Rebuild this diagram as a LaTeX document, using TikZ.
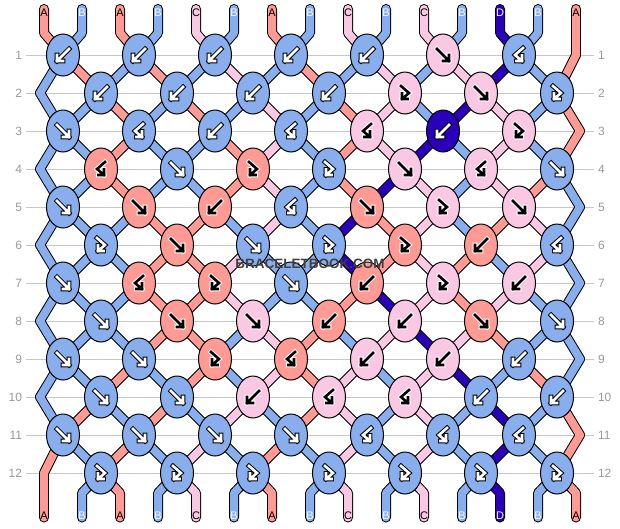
\documentclass[tikz,border=0pt]{standalone}
\usepackage{fontspec}
\setmainfont{Liberation Sans}
\usetikzlibrary{shapes.geometric}

\definecolor{strA}{HTML}{FF9A94}
\definecolor{strB}{HTML}{88AEEE}
\definecolor{strC}{HTML}{FAC8E2}
\definecolor{strD}{HTML}{2A00B8}
\colorlet{inkA}{black}  \colorlet{haloA}{white}
\colorlet{inkB}{white}  \colorlet{haloB}{black}
\colorlet{inkC}{black}  \colorlet{haloC}{white}
\colorlet{inkD}{white}  \colorlet{haloD}{black}

\pgfdeclarelayer{background}
\pgfsetlayers{background,main}

% knot arrows, around the knot centre (y points down)
\def\arrowf{(-6,-6) -- (6,6) (0,6) -- (6,6) -- (6,0)}
\def\arrowb{(6,-6) -- (-6,6) (0,6) -- (-6,6) -- (-6,0)}
\def\arrowfb{(-4,-7) -- (4,0) -- (-3,6) (2.5,6) -- (-3,6) -- (-3,0.5)}
\def\arrowbf{(4,-7) -- (-4,0) -- (3,6) (-2.5,6) -- (3,6) -- (3,0.5)}

% thread colours below each row (row 0 = top)
\def\threadrows{0/{A,B,A,B,C,B,A,B,C,B,C,B,D,B,A},
  1/{B,A,B,A,B,C,B,A,B,C,B,C,D,B,A},
  2/{B,B,A,B,A,B,C,B,A,C,B,D,C,B,A},
  3/{B,B,A,B,B,A,C,B,A,C,D,B,C,B,A},
  4/{B,B,A,B,B,A,C,B,A,D,C,B,C,A,B},
  5/{B,B,B,A,A,B,C,B,D,A,C,B,A,C,B},
  6/{B,B,B,A,A,C,B,B,D,A,C,A,B,C,B},
  7/{B,B,B,A,A,C,B,B,A,D,C,A,C,B,B},
  8/{B,B,B,A,A,B,C,A,B,C,D,C,A,B,B},
  9/{B,B,A,B,A,B,C,A,C,B,C,D,B,A,B},
  10/{B,A,B,A,B,C,B,A,C,B,C,B,D,B,A},
  11/{A,B,A,B,C,B,A,B,C,B,C,B,D,B,A},
  12/{A,B,A,B,C,B,A,B,C,B,C,B,D,B,A}}

\newcommand\threadseg[1]{%
  \ifnum\r=0 \draw[#1] (s-0-\p) -- (u-\p) -- (s-1-\p);
  \else\ifnum\r=12 \draw[#1] (s-12-\p) -- (d-\p) -- (s-13-\p);
  \else \draw[#1] (s-\r-\p) -- (s-\rn-\p);
  \fi\fi}

\tikzset{
  knot/.style={ellipse, draw=black, line width=1pt, minimum width=33pt,
    minimum height=42pt, inner sep=0pt},
  glyph/.style={draw=ink#1, line width=2.6pt, line cap=rect, line join=miter},
  glyph halo/.style={draw=halo#1, line width=4.6pt, line cap=rect, line join=miter},
  thread/.style={line cap=round, line join=round},
  rowline/.style={draw=black!22, line width=1pt},
  rownum/.style={text=black!40, font=\fontsize{12}{12}\selectfont,
    inner sep=0pt, outer sep=4pt},
  strlabel/.style={font=\fontsize{11}{11}\selectfont, inner sep=0pt},
  watermark/.style={text=black!75, font=\bfseries\fontsize{13.5}{13.5}\selectfont}
}

\begin{document}
\begin{tikzpicture}[x=1pt,y=-1pt]
\useasboundingbox (0,0) rectangle (620,528);

% row numbers
\foreach \r in {1,...,12} {
  \node[rownum, anchor=east] (ln-\r) at (26, {55+38*(\r-1)}) {\r};
  \node[rownum, anchor=west] (rn-\r) at (594, {55+38*(\r-1)}) {\r};
}

% knots
\foreach \r/\row in {1/{B/b,B/b,B/b,B/b,B/b,C/f,B/bf},
  2/{B/b,B/b,B/b,B/b,C/fb,C/f,B/fb},
  3/{B/f,B/bf,B/b,B/bf,C/bf,D/b,C/fb},
  4/{A/bf,B/f,A/fb,B/fb,C/f,C/bf,B/f},
  5/{B/f,A/f,A/b,B/bf,A/f,C/fb,C/f},
  6/{B/fb,A/f,B/f,B/fb,A/fb,A/b,B/bf},
  7/{B/f,A/bf,A/fb,B/f,A/b,C/fb,C/b},
  8/{B/f,A/f,C/f,A/b,C/b,A/f,B/f},
  9/{B/f,B/f,A/fb,A/bf,C/b,C/b,B/b},
  10/{B/f,B/f,C/b,C/bf,C/bf,B/b,B/b},
  11/{B/f,B/f,B/f,B/f,B/bf,B/bf,B/bf},
  12/{B/fb,B/fb,B/fb,B/fb,B/fb,B/fb,B/fb}} {
  \foreach \kc/\kt [count=\kj] in \row {
    \node[knot, fill=str\kc] (k-\r-\kj)
      at ({63+38*mod(\r+1,2)+76*(\kj-1)}, {55+38*(\r-1)}) {};
    \expandafter\let\expandafter\arrowpath\csname arrow\kt\endcsname
    \draw[glyph halo=\kc, shift={(k-\r-\kj.center)}] \arrowpath;
    \draw[glyph=\kc, shift={(k-\r-\kj.center)}] \arrowpath;
  }
}

% where each thread passes in each row
\foreach \r in {1,...,12} {
  \foreach \p in {1,...,15} {
    \pgfmathtruncatemacro\kj{\p/2+mod(\r,2)*mod(\p,2)}
    \ifodd\r
      \ifnum\p=15 \coordinate (s-\r-\p) at (580, {55+38*(\r-1)});
      \else \coordinate (s-\r-\p) at (k-\r-\kj); \fi
    \else
      \ifnum\p=1 \coordinate (s-\r-\p) at (40, {55+38*(\r-1)});
      \else \coordinate (s-\r-\p) at (k-\r-\kj); \fi
    \fi
  }
}
\coordinate (s-1-15) at (576,55);
\coordinate (s-12-1) at (44,473);

% thread ends and their letters
\foreach \tcol [count=\p] in {A,B,A,B,C,B,A,B,C,B,C,B,D,B,A} {
  \coordinate (s-0-\p) at ({44+38*(\p-1)}, 9);
  \coordinate (u-\p) at ({44+38*(\p-1)}, 33);
  \coordinate (d-\p) at ({44+38*(\p-1)}, 493);
  \coordinate (s-13-\p) at ({44+38*(\p-1)}, 517.5);
  \node[strlabel, text=ink\tcol] (top-\p) at ({44+38*(\p-1)}, 12.5) {\tcol};
  \node[strlabel, text=ink\tcol] (bot-\p) at ({44+38*(\p-1)}, 516) {\tcol};
}

\begin{pgfonlayer}{background}
  \foreach \r in {1,...,12} \draw[rowline] (ln-\r) -- (rn-\r);
  % outline pass, then colour pass
  \foreach \r/\row in \threadrows {
    \pgfmathtruncatemacro\rn{\r+1}
    \foreach \tcol [count=\p] in \row {\threadseg{thread, draw=black, line width=10pt}}
  }
  \foreach \r/\row in \threadrows {
    \pgfmathtruncatemacro\rn{\r+1}
    \foreach \tcol [count=\p] in \row {\threadseg{thread, draw=str\tcol, line width=8pt}}
  }
\end{pgfonlayer}

\node[watermark] (brand) at (310,264) {BRACELETBOOK.COM};
\end{tikzpicture}
\end{document}
